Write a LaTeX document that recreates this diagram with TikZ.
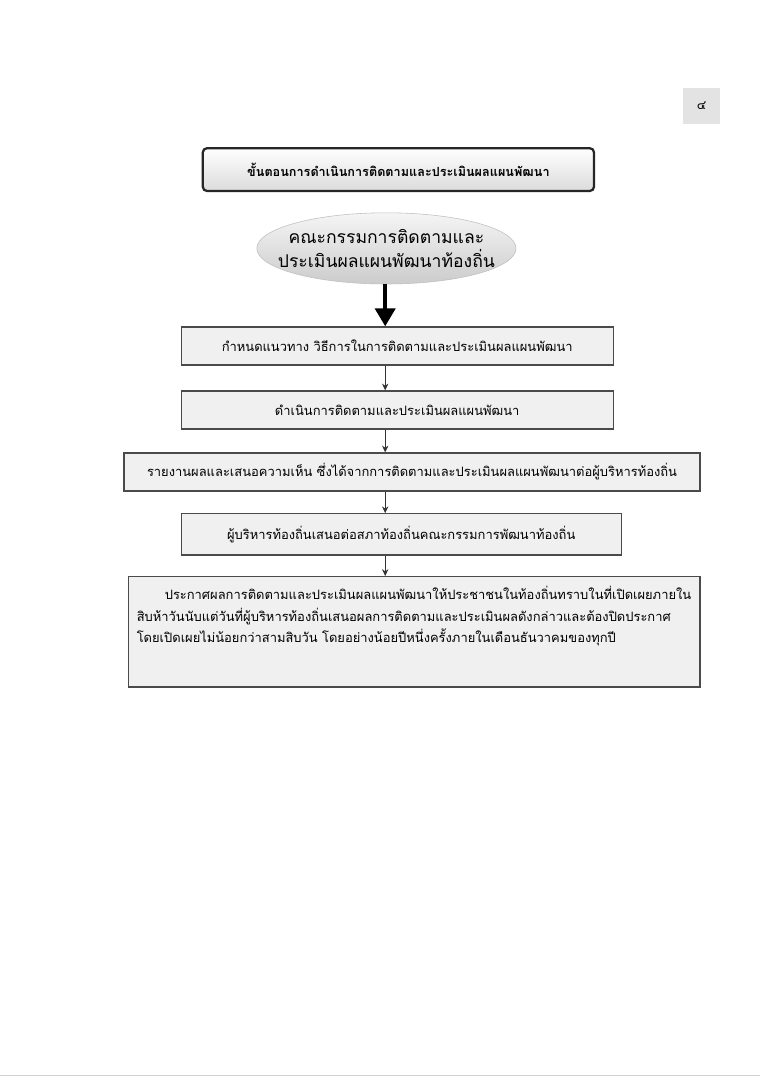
\documentclass[tikz,border=0pt]{standalone}
\usepackage{fontspec}
\usepackage{tikz}
\usetikzlibrary{
  arrows.meta,
  shapes.geometric,
  positioning,
  calc
}
\newfontfamily\thaifont[Script=Thai]{Loma}
\definecolor{pmLine}{HTML}{4A4A4A}
\definecolor{pmFill}{HTML}{F0F0F0}
\definecolor{pmPage}{HTML}{E3E3E3}
\tikzset{
  pmnode/.style={
    draw=pmLine, fill=pmFill, line width=0.9pt, inner sep=0pt,
    font=\thaifont\fontsize{9.2}{15.3}\selectfont, align=center
  },
  stepbox/.style={pmnode, minimum height=0.95cm},
  notebox/.style={pmnode, align=left, anchor=north, inner xsep=0.2cm, inner ysep=0.25cm},
  titlebox/.style={
    pmnode, draw=black!85, line width=1.6pt, rounded corners=3pt,
    top color=white, bottom color=black!14,
    minimum width=9.78cm, minimum height=1.07cm,
    font=\thaifont\bfseries\fontsize{9}{14}\selectfont
  },
  oval/.style={
    ellipse, draw=black!25, top color=black!4, bottom color=black!20,
    minimum width=6.48cm, minimum height=1.78cm, inner xsep=-0.45cm, inner ysep=0pt,
    font=\thaifont\fontsize{12.5}{17}\selectfont, align=center
  },
  pageno/.style={fill=pmPage, minimum width=0.93cm, minimum height=0.9cm, font=\thaifont\small},
  flow/.style={-{Stealth[length=1.7mm, width=1.6mm]}, line width=0.6pt, black!80},
  bigflow/.style={-{Triangle[length=4.5mm, width=5mm]}, line width=2.8pt, black}
}

\begin{document}
\begin{tikzpicture}
  \useasboundingbox[fill=white] (0,0) rectangle (19,-27);
  \draw[black!18, line width=1pt] (0,-26.88) -- (19,-26.88);

  \node[pageno] (page) at (17.54,-2.65) {๔};
  \node[titlebox] (title) at (9.96,-4.24) {ขั้นตอนการดำเนินการติดตามและประเมินผลแผนพัฒนา};
  \node[oval] (committee) at (9.66,-6.21) {คณะกรรมการติดตามและ\\ประเมินผลแผนพัฒนาท้องถิ่น};

  % steps
  \node[stepbox, minimum width=10.8cm] (guide) at (9.93,-8.65)
    {กำหนดแนวทาง วิธีการในการติดตามและประเมินผลแผนพัฒนา};
  \node[stepbox, minimum width=10.8cm] (run) at (9.93,-10.25)
    {ดำเนินการติดตามและประเมินผลแผนพัฒนา};
  \node[stepbox, minimum width=14.4cm] (report) at (10.3,-11.8)
    {รายงานผลและเสนอความเห็น ซึ่งได้จากการติดตามและประเมินผลแผนพัฒนาต่อผู้บริหารท้องถิ่น};
  \node[stepbox, minimum width=11cm, minimum height=1.03cm] (exec) at (10.03,-13.36)
    {ผู้บริหารท้องถิ่นเสนอต่อสภาท้องถิ่นคณะกรรมการพัฒนาท้องถิ่น};
  \node[notebox, text width=13.88cm] (announce) at (10.36,-14.4)
    {\hspace*{0.7cm}ประกาศผลการติดตามและประเมินผลแผนพัฒนาให้ประชาชนในท้องถิ่นทราบในที่เปิดเผยภายใน\\
     สิบห้าวันนับแต่วันที่ผู้บริหารท้องถิ่นเสนอผลการติดตามและประเมินผลดังกล่าวและต้องปิดประกาศ\\
     โดยเปิดเผยไม่น้อยกว่าสามสิบวัน โดยอย่างน้อยปีหนึ่งครั้งภายในเดือนธันวาคมของทุกปี\rule[-0.85cm]{0pt}{0.85cm}};

  \coordinate (axis) at (9.63,0);
  \draw[bigflow] (committee.south -| axis) -- (guide.north -| axis);
  \draw[flow] (guide.south -| axis) -- (run.north -| axis);
  \draw[flow] (run.south -| axis) -- (report.north -| axis);
  \draw[flow] (report.south -| axis) -- (exec.north -| axis);
  \draw[flow] (exec.south -| axis) -- (announce.north -| axis);
\end{tikzpicture}
\end{document}
